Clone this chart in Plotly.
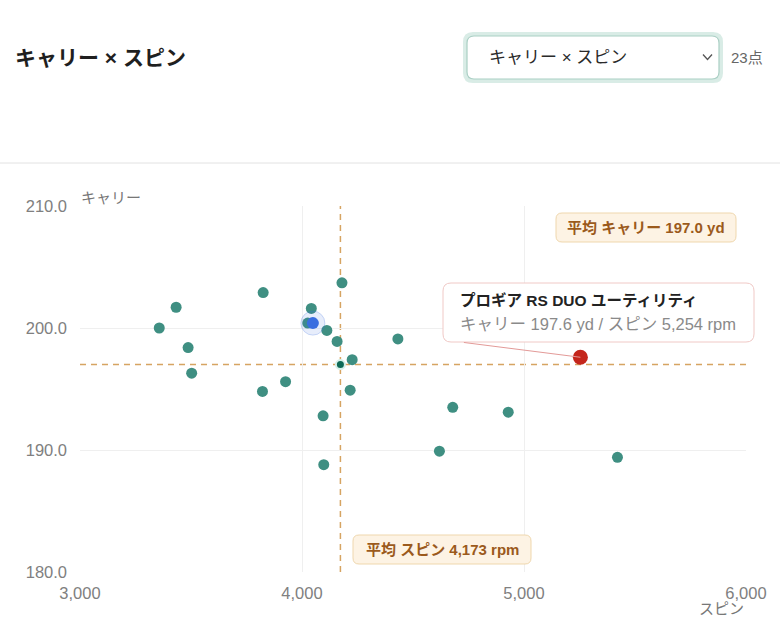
import plotly.graph_objects as go

# ---- data ----
spin = [3357, 3433, 3487, 3503, 3825, 3822, 3926, 4042, 4026, 4112, 4158, 4180,
        4226, 4217, 4095, 4098, 4432, 4619, 4679, 4929, 5421]
carry = [200.0, 201.7, 198.4, 196.3, 202.9, 194.8, 195.6, 201.6, 200.4, 199.8, 198.9, 203.7,
         197.4, 194.9, 192.8, 188.8, 199.1, 189.9, 193.5, 193.1, 189.4]
selected_spin = [4049]
selected_carry = [200.4]
focus_name = "プロギア RS DUO ユーティリティ"
focus_spin = [5254]
focus_carry = [197.6]
mean_spin = 4173
mean_carry = 197.0
x_ticks = [3000, 4000, 5000, 6000]
y_ticks = [180, 190, 200, 210]
n_points = 23

W, H = 780, 634
L, R, T, B = 80, 746, 206, 572
FONT = "Liberation Sans, Noto Sans CJK JP, sans-serif"


def xp(px):
    return (px - L) / (R - L)


def yp(py):
    return (B - py) / (B - T)


def rrect(x0, y0, x1, y1, r):
    # rounded rectangle path in paper coords from pixel coords
    pts = [
        f"M {xp(x0 + r)},{yp(y0)}",
        f"L {xp(x1 - r)},{yp(y0)}",
        f"Q {xp(x1)},{yp(y0)} {xp(x1)},{yp(y0 + r)}",
        f"L {xp(x1)},{yp(y1 - r)}",
        f"Q {xp(x1)},{yp(y1)} {xp(x1 - r)},{yp(y1)}",
        f"L {xp(x0 + r)},{yp(y1)}",
        f"Q {xp(x0)},{yp(y1)} {xp(x0)},{yp(y1 - r)}",
        f"L {xp(x0)},{yp(y0 + r)}",
        f"Q {xp(x0)},{yp(y0)} {xp(x0 + r)},{yp(y0)}",
        "Z",
    ]
    return " ".join(pts)


fig = go.Figure()

fig.add_trace(go.Scatter(
    x=spin, y=carry, mode="markers",
    marker=dict(size=11, color="#3f8f82", line=dict(width=0)),
    hoverinfo="skip", showlegend=False))

# selected point halo + point
fig.add_trace(go.Scatter(
    x=selected_spin, y=selected_carry, mode="markers",
    marker=dict(size=24, color="rgba(59,111,224,0.12)",
                line=dict(width=1, color="rgba(59,111,224,0.25)")),
    hoverinfo="skip", showlegend=False))
fig.add_trace(go.Scatter(
    x=selected_spin, y=selected_carry, mode="markers",
    marker=dict(size=12, color="#3a6ee0"),
    hoverinfo="skip", showlegend=False))

# mean marker
fig.add_trace(go.Scatter(
    x=[mean_spin], y=[mean_carry], mode="markers",
    marker=dict(size=9, color="#0e6a56", line=dict(width=2, color="#d7f0e9")),
    hoverinfo="skip", showlegend=False))

# focus point
fig.add_trace(go.Scatter(
    x=focus_spin, y=focus_carry, mode="markers",
    marker=dict(size=15, color="#c4261c"),
    hoverinfo="skip", showlegend=False))

shapes = []
# mean lines
shapes.append(dict(type="line", xref="x", yref="paper", x0=mean_spin, x1=mean_spin, y0=0, y1=1,
                   line=dict(color="#d6a462", width=1.5, dash="6px,5px"), layer="below"))
shapes.append(dict(type="line", xref="paper", yref="y", x0=0, x1=1, y0=mean_carry, y1=mean_carry,
                   line=dict(color="#d6a462", width=1.5, dash="6px,5px"), layer="below"))

# header divider
shapes.append(dict(type="line", xref="paper", yref="paper", x0=xp(0), x1=xp(W), y0=yp(163), y1=yp(163),
                   line=dict(color="#e2e2e2", width=1)))
# dropdown box (focus ring + border)
shapes.append(dict(type="path", xref="paper", yref="paper", path=rrect(465, 34, 721, 81, 8),
                   line=dict(color="#d9ece6", width=4), fillcolor="white"))
shapes.append(dict(type="path", xref="paper", yref="paper", path=rrect(467, 36, 719, 79, 7),
                   line=dict(color="#aacfc4", width=1.2), fillcolor="white"))
# chevron
shapes.append(dict(type="path", xref="paper", yref="paper",
                   path=f"M {xp(703)},{yp(54.5)} L {xp(707.5)},{yp(59.5)} L {xp(712)},{yp(54.5)}",
                   line=dict(color="#555555", width=1.3)))

# mean label boxes
shapes.append(dict(type="path", xref="paper", yref="paper", path=rrect(556, 213, 736, 242, 6),
                   line=dict(color="#efd7ad", width=1), fillcolor="#fdf3e4"))
shapes.append(dict(type="path", xref="paper", yref="paper", path=rrect(353, 535, 531, 564, 6),
                   line=dict(color="#efd7ad", width=1), fillcolor="#fdf3e4"))
# tooltip box
shapes.append(dict(type="path", xref="paper", yref="paper", path=rrect(443, 283, 754, 342, 8),
                   line=dict(color="#f0c9c6", width=1), fillcolor="white"))

annotations = [
    dict(text="<b>キャリー × スピン</b>", xref="paper", yref="paper", x=xp(13), y=yp(57),
         xanchor="left", yanchor="middle", showarrow=False,
         font=dict(family=FONT, size=21, color="#1f1f1f")),
    dict(text="キャリー × スピン", xref="paper", yref="paper", x=xp(487), y=yp(57),
         xanchor="left", yanchor="middle", showarrow=False,
         font=dict(family=FONT, size=17, color="#2a2a2a")),
    dict(text=f"{n_points}点", xref="paper", yref="paper", x=xp(729), y=yp(57),
         xanchor="left", yanchor="middle", showarrow=False,
         font=dict(family=FONT, size=15, color="#666666")),
    dict(text="キャリー", xref="paper", yref="paper", x=xp(79), y=yp(197),
         xanchor="left", yanchor="middle", showarrow=False,
         font=dict(family=FONT, size=15, color="#777777")),
    dict(text="スピン", xref="paper", yref="paper", x=xp(746), y=yp(608),
         xanchor="right", yanchor="middle", showarrow=False,
         font=dict(family=FONT, size=15, color="#777777")),
    dict(text=f"<b>平均 キャリー {mean_carry:.1f} yd</b>", xref="paper", yref="paper",
         x=xp(646), y=yp(227.5), xanchor="center", yanchor="middle", showarrow=False,
         font=dict(family=FONT, size=15, color="#9b5a1c")),
    dict(text=f"<b>平均 スピン {mean_spin:,} rpm</b>", xref="paper", yref="paper",
         x=xp(442), y=yp(549.5), xanchor="center", yanchor="middle", showarrow=False,
         font=dict(family=FONT, size=15, color="#9b5a1c")),
    dict(text=f"<b>{focus_name}</b>", xref="paper", yref="paper", x=xp(458), y=yp(300),
         xanchor="left", yanchor="middle", showarrow=False,
         font=dict(family=FONT, size=15.5, color="#222222")),
    dict(text=f"キャリー {focus_carry[0]:.1f} yd / スピン {focus_spin[0]:,} rpm",
         xref="paper", yref="paper", x=xp(458), y=yp(324),
         xanchor="left", yanchor="middle", showarrow=False,
         font=dict(family=FONT, size=16.5, color="#8a8a8a")),
    # connector from tooltip to focus point
    dict(text="", x=focus_spin[0], y=focus_carry[0], xref="x", yref="y",
         ax=-118, ay=-15, showarrow=True, arrowhead=0, arrowwidth=1,
         arrowcolor="#e39a98", standoff=0),
]

fig.update_layout(
    width=W, height=H, autosize=False,
    margin=dict(l=L, r=W - R, t=T, b=H - B, pad=0),
    paper_bgcolor="white", plot_bgcolor="white",
    font=dict(family=FONT, color="#777777"),
    shapes=shapes, annotations=annotations,
    xaxis=dict(range=[3000, 6000], tickvals=x_ticks, tickformat=",",
               showgrid=True, gridcolor="#efefef", gridwidth=1, zeroline=False,
               showline=False, ticks="", tickfont=dict(size=16.5, color="#808080",
                                                       family="Liberation Sans, sans-serif"),
               ticklabelstandoff=9),
    yaxis=dict(range=[180, 210], tickvals=y_ticks, tickformat=".1f",
               showgrid=True, gridcolor="#efefef", gridwidth=1, zeroline=False,
               showline=False, ticks="", tickfont=dict(size=16.5, color="#808080",
                                                       family="Liberation Sans, sans-serif"),
               ticklabelstandoff=12),
    hovermode=False,
)

fig.write_html("out.html")
